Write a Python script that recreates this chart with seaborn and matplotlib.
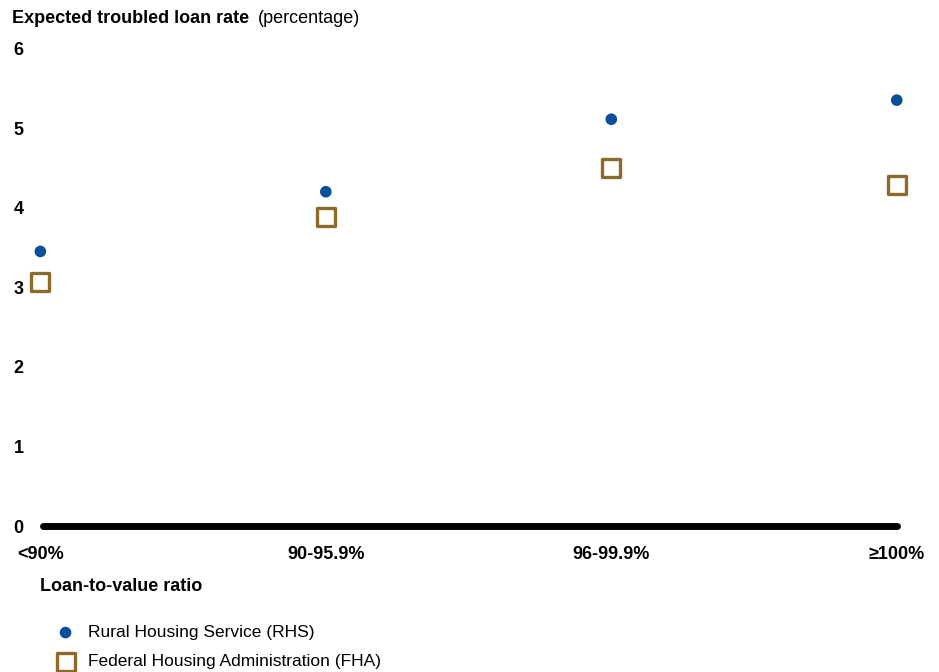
import matplotlib
matplotlib.use("Agg")
import matplotlib.pyplot as plt
import pandas as pd
import seaborn as sns

# Data
ltv_labels = ["<90%", "90-95.9%", "96-99.9%", "≥100%"]
rhs_rate = [3.45, 4.20, 5.11, 5.35]
fha_rate = [3.07, 3.88, 4.50, 4.29]

blue = "#0A4F99"
gold = "#8C6A2C"

sns.set_theme(style="white")
plt.rcParams["font.family"] = ["Liberation Sans", "DejaVu Sans"]
plt.rcParams["text.color"] = "black"
plt.rcParams["xtick.color"] = "black"
plt.rcParams["ytick.color"] = "black"

df = pd.DataFrame({"x": range(len(ltv_labels)), "RHS": rhs_rate, "FHA": fha_rate})

fig = plt.figure(figsize=(9.39, 6.72), dpi=100)
ax = fig.add_axes([0.043, 0.217, 0.912, 0.711])

sns.scatterplot(data=df, x="x", y="RHS", ax=ax, color=blue, s=70, marker="o",
                edgecolor="none", clip_on=False, zorder=4,
                label="Rural Housing Service (RHS)")
sns.scatterplot(data=df, x="x", y="FHA", ax=ax, marker="s", s=150,
                facecolor="white", edgecolor=gold, linewidth=2.4, clip_on=False,
                zorder=4, label="Federal Housing Administration (FHA)")

ax.set_xlim(0, 3)
ax.set_ylim(0, 6)
ax.axhline(0, color="black", lw=5, xmin=0.003, xmax=1.0, clip_on=False, zorder=3)
sns.despine(ax=ax, left=True, bottom=True, top=True, right=True)

ax.set_yticks(range(0, 7))
ax.set_yticklabels([str(v) for v in range(0, 7)], fontsize=13, fontweight="bold")
ax.set_xticks(df["x"])
ax.set_xticklabels(ltv_labels, fontsize=13, fontweight="bold")
ax.tick_params(axis="y", length=0, pad=12)
ax.tick_params(axis="x", length=0, pad=14)
ax.set_xlabel("")
ax.set_ylabel("")

fig.text(0.013, 0.973, "Expected troubled loan rate", fontsize=13, fontweight="bold", va="center")
fig.text(0.275, 0.973, "(percentage)", fontsize=13, va="center")
fig.text(0.043, 0.127, "Loan-to-value ratio", fontsize=13, fontweight="bold", va="center")

handles, labels = ax.get_legend_handles_labels()
ax.get_legend().remove()
fig.legend(handles, labels, loc="upper left", bbox_to_anchor=(0.055, 0.07),
           frameon=False, fontsize=12.5, handletextpad=0.5, labelspacing=0.8,
           borderaxespad=0, borderpad=0, handlelength=1.6)

fig.savefig("out.png", dpi=100)
